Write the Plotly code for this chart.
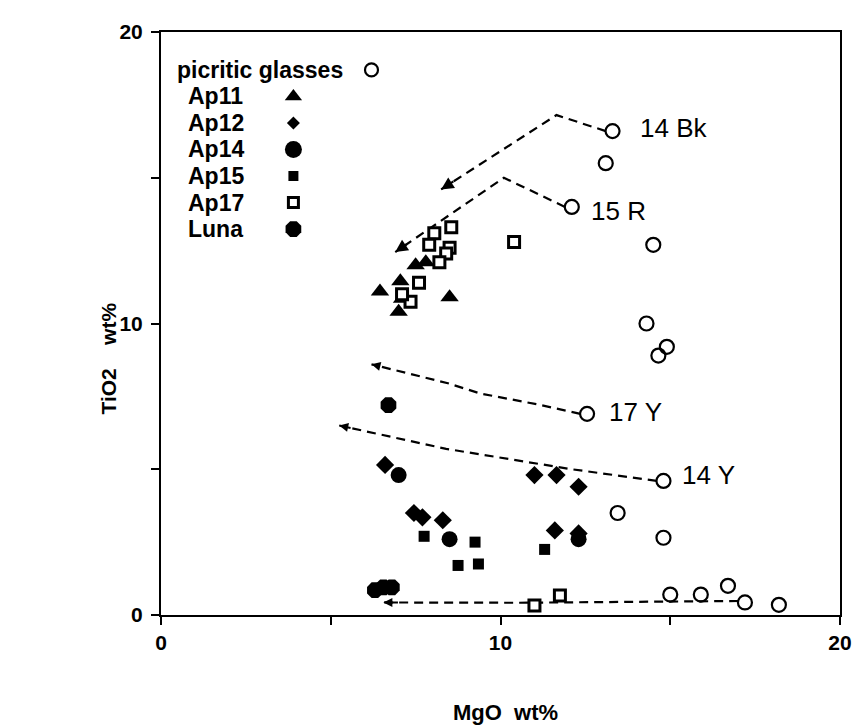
import plotly.graph_objects as go

# ---------------- data (MgO wt%, TiO2 wt%) ----------------
pg_mgo = [13.3, 13.1, 12.1, 14.5, 14.3, 14.9, 14.65, 12.55, 14.8, 13.45, 14.8, 15.0, 15.9, 16.7, 17.2, 18.2]
pg_tio2 = [16.6, 15.5, 14.0, 12.7, 10.0, 9.2, 8.9, 6.9, 4.6, 3.5, 2.65, 0.7, 0.7, 1.0, 0.43, 0.35]

ap11_mgo = [6.45, 7.05, 7.5, 7.8, 8.5, 7.0, 7.1]
ap11_tio2 = [11.1, 11.45, 12.0, 12.1, 10.9, 10.4, 10.85]

ap12_mgo = [6.6, 7.45, 7.7, 8.3, 11.0, 11.65, 12.3, 11.6, 12.3]
ap12_tio2 = [5.15, 3.5, 3.35, 3.25, 4.8, 4.8, 4.4, 2.9, 2.8]

ap14_mgo = [7.0, 8.5, 12.3]
ap14_tio2 = [4.8, 2.6, 2.6]

ap15_mgo = [7.75, 9.25, 8.75, 9.35, 11.3]
ap15_tio2 = [2.7, 2.5, 1.7, 1.75, 2.25]

ap17_mgo = [8.55, 8.05, 7.9, 8.5, 8.4, 8.2, 7.6, 7.35, 7.1, 10.4, 11.0, 11.75]
ap17_tio2 = [13.3, 13.1, 12.7, 12.6, 12.4, 12.1, 11.4, 10.75, 11.0, 12.8, 0.33, 0.67]

luna_mgo = [6.7, 6.3, 6.55, 6.8]
luna_tio2 = [7.2, 0.85, 0.95, 0.95]

# fractionation trends (dashed, arrow at last point)
trend_14bk_mgo = [13.1, 11.65, 8.25]
trend_14bk_tio2 = [16.6, 17.15, 14.6]
trend_15r_mgo = [11.9, 10.1, 6.9]
trend_15r_tio2 = [14.0, 15.0, 12.45]
trend_17y_mgo = [12.35, 11.2, 9.4, 8.45, 6.2]
trend_17y_tio2 = [6.9, 7.2, 7.6, 7.95, 8.6]
trend_14y_mgo = [14.6, 12.1, 8.4, 5.25]
trend_14y_tio2 = [4.6, 5.0, 5.7, 6.5]
trend_low_mgo = [17.0, 10.5, 6.55]
trend_low_tio2 = [0.48, 0.42, 0.43]

glass_labels = ["14 Bk", "15 R", "17 Y", "14 Y"]
glass_label_mgo = [14.05, 12.6, 13.15, 15.3]
glass_label_tio2 = [16.7, 13.85, 6.95, 4.8]

legend_names = ["picritic glasses", "Ap11", "Ap12", "Ap14", "Ap15", "Ap17", "Luna"]

x_tickvals = [0, 5, 10, 15, 20]
x_ticktext = ["0", "", "10", "", "20"]
y_tickvals = [0, 5, 10, 15, 20]
y_ticktext = ["0", "", "10", "", "20"]

# ---------------- styles ----------------
BLACK = "black"
FONT = "Liberation Sans"
styles = {
    "picritic glasses": dict(symbol="circle-open", size=14, color=BLACK, line=dict(width=2.2, color=BLACK)),
    "Ap11": dict(symbol="triangle-up", size=16, color=BLACK),
    "Ap12": dict(symbol="diamond", size=14, color=BLACK),
    "Ap14": dict(symbol="circle", size=16, color=BLACK),
    "Ap15": dict(symbol="square", size=11, color=BLACK),
    "Ap17": dict(symbol="square", size=11, color="white", line=dict(width=3, color=BLACK)),
    "Luna": dict(symbol="octagon", size=17, color=BLACK),
}
legend_sizes = {"picritic glasses": 13, "Ap11": 15, "Ap12": 10, "Ap14": 17, "Ap15": 10, "Ap17": 10, "Luna": 17}

series = {
    "picritic glasses": (pg_mgo, pg_tio2),
    "Ap11": (ap11_mgo, ap11_tio2),
    "Ap12": (ap12_mgo, ap12_tio2),
    "Ap14": (ap14_mgo, ap14_tio2),
    "Ap15": (ap15_mgo, ap15_tio2),
    "Ap17": (ap17_mgo, ap17_tio2),
    "Luna": (luna_mgo, luna_tio2),
}

fig = go.Figure()

trends = [
    (trend_14bk_mgo, trend_14bk_tio2, 1.25),
    (trend_15r_mgo, trend_15r_tio2, 1.25),
    (trend_17y_mgo, trend_17y_tio2, 0.9),
    (trend_14y_mgo, trend_14y_tio2, 0.9),
    (trend_low_mgo, trend_low_tio2, 0.9),
]
annotations = []
for tx, ty, asz in trends:
    fig.add_trace(go.Scatter(x=tx, y=ty, mode="lines", showlegend=False, hoverinfo="skip",
                             line=dict(color=BLACK, width=2.2, dash="9px,6px")))
    # arrowhead at the last point, pointing along the last segment
    fx = tx[-1] + 0.12 * (tx[-2] - tx[-1])
    fy = ty[-1] + 0.12 * (ty[-2] - ty[-1])
    annotations.append(dict(x=tx[-1], y=ty[-1], ax=fx, ay=fy, xref="x", yref="y",
                            axref="x", ayref="y", showarrow=True, arrowhead=2,
                            arrowsize=asz, arrowwidth=2, arrowcolor=BLACK, text=""))

for name, (xs, ys) in series.items():
    fig.add_trace(go.Scatter(x=xs, y=ys, mode="markers", name=name, showlegend=False,
                             marker=dict(styles[name])))

for lab, lx, ly in zip(glass_labels, glass_label_mgo, glass_label_tio2):
    annotations.append(dict(x=lx, y=ly, xref="x", yref="y", text=lab, showarrow=False,
                            xanchor="left", yanchor="middle",
                            font=dict(family=FONT, size=26, color=BLACK)))

# ---------------- hand-made legend (text then symbol) ----------------
LEG_TEXT_X = 0.02      # fraction of plot width
LEG_TEXT_INDENT = 0.017
LEG_SYM_X = 0.195
LEG_SYM_X_FIRST = 0.31
LEG_TOP = 0.935        # fraction of plot height
LEG_STEP = 0.0455
for i, name in enumerate(legend_names):
    yy = LEG_TOP - i * LEG_STEP
    xx = LEG_SYM_X_FIRST if i == 0 else LEG_SYM_X
    st = dict(styles[name])
    st["size"] = legend_sizes[name]
    fig.add_trace(go.Scatter(x=[xx], y=[yy], xaxis="x2", yaxis="y2", mode="markers",
                             showlegend=False, hoverinfo="skip", marker=st))
    annotations.append(dict(x=LEG_TEXT_X + (0 if i == 0 else LEG_TEXT_INDENT), y=yy,
                            xref="x2", yref="y2",
                            text="<b>%s</b>" % name, showarrow=False,
                            xanchor="left", yanchor="middle",
                            font=dict(family=FONT, size=23, color=BLACK)))

# axis titles
annotations.append(dict(x=0.508, y=-0.168, xref="paper", yref="paper", text="<b>MgO  wt%</b>",
                        xanchor="center", yanchor="middle",
                        showarrow=False, font=dict(family=FONT, size=22, color=BLACK)))
annotations.append(dict(x=-0.078, y=0.44, xref="paper", yref="paper",
                        text="<b>TiO2\u00a0\u00a0\u00a0\u00a0wt%</b>", textangle=-90,
                        xanchor="center", yanchor="middle",
                        showarrow=False, font=dict(family=FONT, size=21, color=BLACK)))

tickfont = dict(family=FONT, size=21, color=BLACK)
axis_common = dict(showgrid=False, zeroline=False, showline=True, linecolor=BLACK, linewidth=2,
                   mirror=True, ticks="outside", ticklen=8, tickwidth=2, tickcolor=BLACK,
                   tickfont=tickfont)

fig.update_layout(
    width=865, height=727,
    margin=dict(l=153, r=33, t=22, b=120),
    plot_bgcolor="white", paper_bgcolor="white",
    xaxis=dict(range=[0, 20], tickvals=x_tickvals,
               ticktext=["<b>%s</b>" % t if t else "" for t in x_ticktext], **axis_common),
    yaxis=dict(range=[0, 20], tickvals=y_tickvals, ticklabelstandoff=4,
               ticktext=["<b>%s</b>" % t if t else "" for t in y_ticktext], **axis_common),
    xaxis2=dict(range=[0, 1], overlaying="x", visible=False),
    yaxis2=dict(range=[0, 1], overlaying="y", visible=False),
    annotations=annotations,
    showlegend=False,
)

fig.write_html("out.html")
